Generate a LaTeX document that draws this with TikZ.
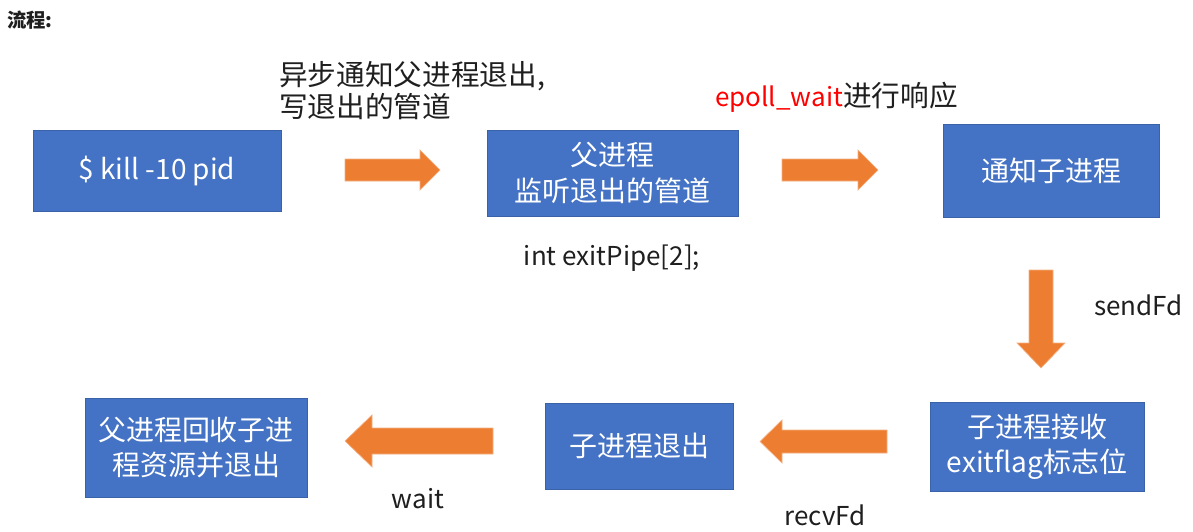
\documentclass[tikz,border=0pt]{standalone}
\usepackage{fontspec}
\setmainfont{Noto Sans CJK SC}
\usetikzlibrary{positioning}
\definecolor{boxblue}{HTML}{4472C4}
\definecolor{boxedge}{HTML}{3A62A8}
\definecolor{arrorange}{HTML}{ED7D31}
\definecolor{arredge}{HTML}{F4B183}
\definecolor{txt}{HTML}{1F1F1F}
\begin{document}
\begin{tikzpicture}[x=0.75pt,y=-0.75pt,
  blk/.style={draw=boxedge,line width=0.6pt,fill=boxblue,text=white,font=\fontsize{21}{26.5}\selectfont,align=center,inner sep=0pt},
  lbl/.style={text=txt,font=\fontsize{19.5}{24}\selectfont,inner sep=0pt},
  cjl/.style={text=txt,font=\fontsize{21.5}{24}\selectfont,inner sep=0pt},
  barrow/.style={fill=arrorange,draw=arredge,line width=0.5pt}]
\useasboundingbox (0,0) rectangle (1193,532);
\fill[white] (0,0) rectangle (1193,532);
% title
\node[anchor=west,text=txt,font=\fontsize{14.5}{16}\selectfont\bfseries,inner sep=0pt] (title) at (7,20) {流程:};
% boxes
\node[blk,minimum width=248*0.75pt,minimum height=81*0.75pt] (kill) at (157,170.5) {\$ kill -10 pid};
\node[blk,minimum width=251*0.75pt,minimum height=86*0.75pt] (parent) at (612.5,173) {父进程\\监听退出的管道};
\node[blk,minimum width=216*0.75pt,minimum height=93*0.75pt] (notify) at (1051,170.5) {通知子进程};
\node[blk,minimum width=214*0.75pt,minimum height=89*0.75pt] (recv) at (1037,446.5) {子进程接收\\exitflag标志位};
\node[blk,minimum width=188*0.75pt,minimum height=86*0.75pt] (childexit) at (639,446) {子进程退出};
\node[blk,minimum width=222*0.75pt,minimum height=99*0.75pt] (reap) at (196,447.5) {父进程回收子进\\程资源并退出};
% labels
\node[cjl,anchor=north west,align=left] (async) at (279,61) {异步通知父进程退出,\\写退出的管道};
\node[cjl,anchor=west] (epoll) at (715,97) {\textcolor{red}{\fontsize{19.5}{24}\selectfont epoll\_wait}进行响应};
\node[lbl,anchor=center] (pipe) at (612,258) {int exitPipe[2];};
\node[lbl,anchor=west] (sendfd) at (1094,305) {sendFd};
\node[lbl,anchor=center] (waitl) at (418,499) {wait};
\node[lbl,anchor=center] (recvfd) at (825,515) {recvFd};
% block arrows
\draw[barrow] (345,159) -- (420,159) -- (420,150) -- (440,170) -- (420,190) -- (420,181) -- (345,181) -- cycle;
\draw[barrow] (782,159) -- (858,159) -- (858,150) -- (878,170) -- (858,190) -- (858,181) -- (782,181) -- cycle;
\draw[barrow] (1029,270) -- (1053,270) -- (1053,343) -- (1065,343) -- (1041,368) -- (1017,343) -- (1029,343) -- cycle;
\draw[barrow] (887,430) -- (782,430) -- (782,420) -- (760,441.5) -- (782,463) -- (782,453) -- (887,453) -- cycle;
\draw[barrow] (493,428) -- (372,428) -- (372,415) -- (345,441) -- (372,467) -- (372,454) -- (493,454) -- cycle;
\end{tikzpicture}
\end{document}
